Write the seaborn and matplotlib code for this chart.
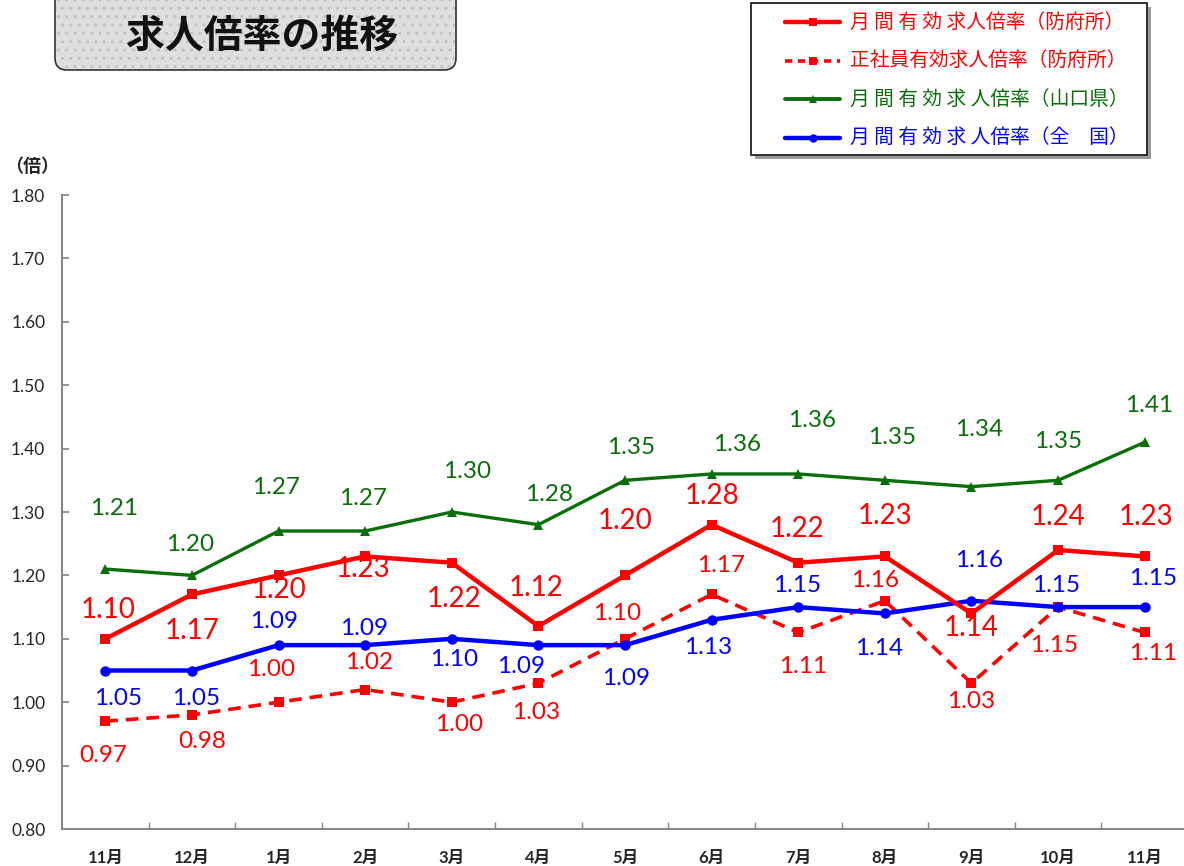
import numpy as np
import pandas as pd
import seaborn as sns
import matplotlib.pyplot as plt
from matplotlib.patches import FancyBboxPatch, Rectangle
from matplotlib.lines import Line2D

# ---- data -------------------------------------------------------------
months = ["11月", "12月", "1月", "2月", "3月", "4月", "5月",
          "6月", "7月", "8月", "9月", "10月", "11月"]
hofu = [1.10, 1.17, 1.20, 1.23, 1.22, 1.12, 1.20, 1.28, 1.22, 1.23, 1.14, 1.24, 1.23]
hofu_regular = [0.97, 0.98, 1.00, 1.02, 1.00, 1.03, 1.10, 1.17, 1.11, 1.16, 1.03, 1.15, 1.11]
yamaguchi = [1.21, 1.20, 1.27, 1.27, 1.30, 1.28, 1.35, 1.36, 1.36, 1.35, 1.34, 1.35, 1.41]
national = [1.05, 1.05, 1.09, 1.09, 1.10, 1.09, 1.09, 1.13, 1.15, 1.14, 1.16, 1.15, 1.15]

legend_labels = ["月 間 有 効 求人倍率（防府所）",
                 "正社員有効求人倍率（防府所）",
                 "月 間 有 効 求 人倍率（山口県）",
                 "月 間 有 効 求 人倍率（全　国）"]

# label offsets in pixels (dx, dy up)
hofu_off = [(3, 29), (0, -37), (1, -15), (-2, -13), (2, -36), (-2, 38), (0, 54),
            (0, 29), (-1, 34), (0, 40), (0, -15), (0, 33), (1, 39)]
regular_off = [(-2, -34), (10, -27), (-7, 33), (4, 27), (7, -22), (-2, -29), (-8, 25),
               (9, 29), (5, -34), (-10, 20), (0, -18), (-4, -38), (8, -21)]
yama_off = [(9, 61), (-2, 31), (-2, 44), (-2, 33), (15, 40), (11, 30), (6, 33),
            (25, 29), (14, 53), (7, 43), (8, 57), (0, 39), (4, 37)]
nat_off = [(13, -28), (4, -28), (-4, 24), (-1, 17), (2, -21), (-17, -21), (1, -33),
           (-4, -28), (-1, 22), (-6, -35), (8, 40), (-2, 22), (8, 29)]

RED = "#FF0000"
GREEN = "#0A6E0A"
BLUE = "#0000FF"

W, H = 1184, 866

sns.set_theme(style="white")
plt.rcParams["font.family"] = ["Lato", "Noto Sans CJK JP", "DejaVu Sans"]

fig = plt.figure(figsize=(W / 100, H / 100), dpi=100)
ax = fig.add_axes([62 / W, 1 - 829 / H, 1126 / W, 634 / H])

pos = np.arange(len(months))
df = pd.DataFrame({"pos": pos, "hofu": hofu, "regular": hofu_regular,
                   "yama": yamaguchi, "nat": national})

series = [
    ("regular", RED, "s", 6.5, 2.6, (0, (3.5, 2.2)), regular_off, 17.5),
    ("nat", BLUE, "o", 7.5, 3.2, "-", nat_off, 17.5),
    ("yama", GREEN, "^", 7.5, 2.4, "-", yama_off, 17.5),
    ("hofu", RED, "s", 7.5, 3.2, "-", hofu_off, 20),
]
for col, color, mk, ms, lw, ls, offs, fs in series:
    sns.lineplot(data=df, x="pos", y=col, ax=ax, color=color, marker=mk,
                 markersize=ms, linewidth=lw, linestyle=ls,
                 markeredgecolor=color, markeredgewidth=0)
    for xi, yi, (dx, dy) in zip(pos, df[col], offs):
        ax.annotate(f"{yi:.2f}", (xi, yi), xytext=(dx, dy),
                    textcoords="offset pixels", ha="center", va="center",
                    color=color, fontsize=fs)

ax.set_xlim(-0.5, len(months) - 0.5)
ax.set_ylim(0.80, 1.80)
ax.set_yticks(np.arange(0.8, 1.81, 0.1))
ax.set_yticklabels([f"{v:.2f}" for v in np.arange(0.8, 1.81, 0.1)], fontsize=12.5)
ax.set_xticks(pos)
ax.set_xticklabels(months, fontsize=12, fontweight="bold")
ax.set_xticks(np.arange(0.5, len(months) - 1, 1), minor=True)
ax.tick_params(axis="x", which="major", length=0, pad=15)
ax.tick_params(axis="x", which="minor", direction="in", length=5, color="#888888",
               bottom=True)
ax.tick_params(axis="y", direction="in", length=5, color="#888888", left=True, pad=12)
ax.set_xlabel("")
ax.set_ylabel("")
for s in ["top", "right"]:
    ax.spines[s].set_visible(False)
for s in ["left", "bottom"]:
    ax.spines[s].set_color("#888888")
    ax.spines[s].set_linewidth(1.5)

fig.text(32 / W, 1 - 167 / H, "（倍）", ha="center", va="center",
         fontsize=13, fontweight="bold", family=["Noto Sans CJK JP"])

# ---- title box ----------------------------------------------------------
def fx(px):
    return px / W


def fy(py):
    return 1 - py / H


bx0, bx1, by0, by1 = 55, 456, -20, 70
for hatch, fc, ec, lw in [(None, "#DEDEDE", "none", 0), ("..", "none", "#C2C2C2", 0),
                          (None, "none", "#333333", 1.2)]:
    p = FancyBboxPatch((fx(bx0), fy(by1)), fx(bx1 - bx0), (by1 - by0) / H,
                       boxstyle=f"round,pad=0,rounding_size={12 / W}",
                       mutation_aspect=W / H, transform=fig.transFigure,
                       facecolor=fc, edgecolor=ec, linewidth=lw, hatch=hatch)
    fig.add_artist(p)
fig.text(fx(262), fy(36), "求人倍率の推移", ha="center", va="center",
         fontsize=28, fontweight="bold", family=["Noto Sans CJK JP"], color="#111111")

# ---- legend -------------------------------------------------------------
lx0, lx1, ly0, ly1 = 751, 1147, 3, 155
fig.add_artist(Rectangle((fx(lx0 + 4), fy(ly1 + 4)), fx(lx1 - lx0), (ly1 - ly0) / H,
                         transform=fig.transFigure, facecolor="#9A9A9A",
                         edgecolor="none"))
fig.add_artist(Rectangle((fx(lx0), fy(ly1)), fx(lx1 - lx0), (ly1 - ly0) / H,
                         transform=fig.transFigure, facecolor="white",
                         edgecolor="#222222", linewidth=1.3))
leg_styles = [(RED, "s", "-", 3.2), (RED, "s", (0, (2.0, 1.6)), 2.6),
              (GREEN, "^", "-", 2.8), (BLUE, "o", "-", 3.2)]
for i, (lab, (c, mk, ls, lw)) in enumerate(zip(legend_labels, leg_styles)):
    yy = 22 + i * 38.5
    fig.add_artist(Line2D([fx(785), fx(840)], [fy(yy), fy(yy)], color=c,
                          linestyle=ls, linewidth=lw, transform=fig.transFigure))
    fig.add_artist(Line2D([fx(812.5)], [fy(yy)], color=c, marker=mk, markersize=6,
                          markeredgewidth=0, transform=fig.transFigure))
    fig.text(fx(850), fy(yy), lab, ha="left", va="center", color=c,
             fontsize=14.2, family=["Noto Sans CJK JP"])

fig.savefig("out.png", dpi=100)
